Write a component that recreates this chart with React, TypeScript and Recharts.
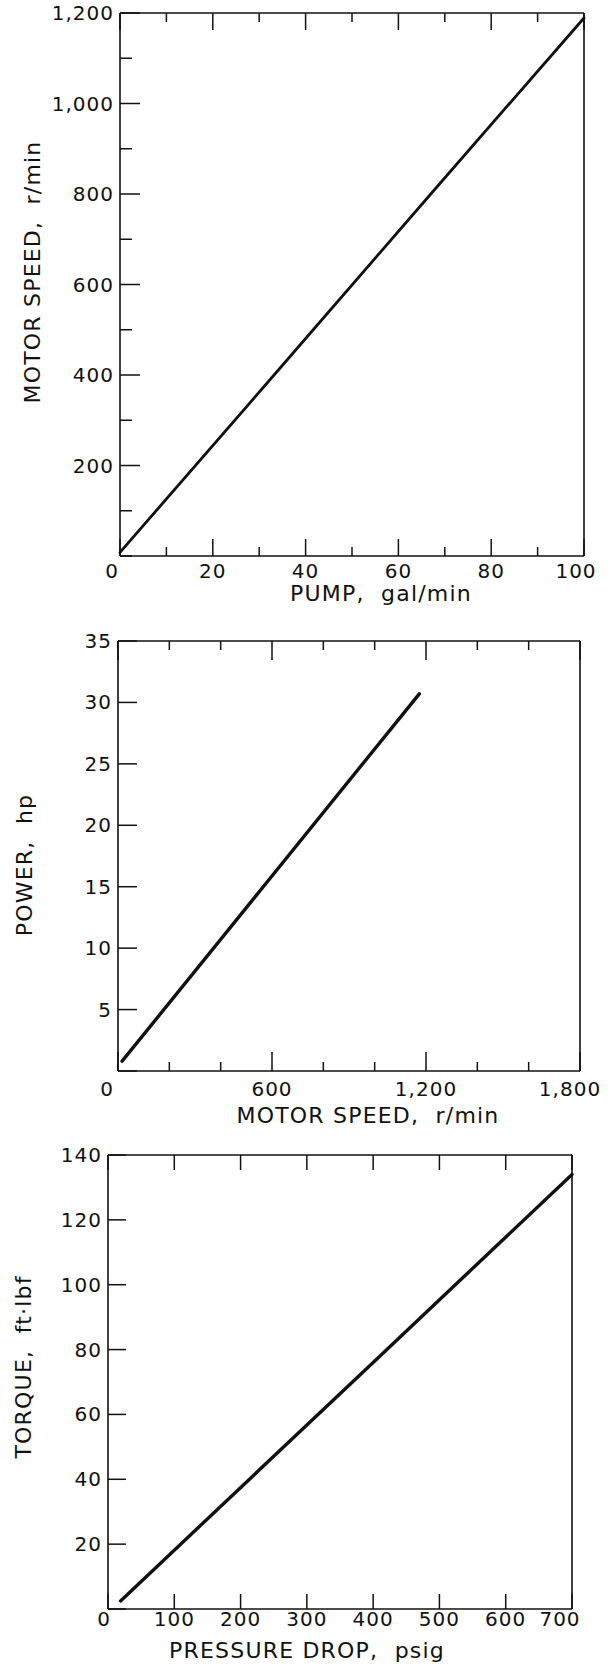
import React from 'react';
import { LineChart, Line, XAxis, YAxis } from 'recharts';

// ---------- Chart 1: motor speed vs pump flow ----------
const pumpFlow = [0, 33.2, 67.4, 100];
const motorSpeedA = [8, 400, 805, 1189];
const pumpTicks = [0, 10, 20, 30, 40, 50, 60, 70, 80, 90, 100];
const pumpLabels = [0, 20, 40, 60, 80, 100];
const speedTicksA = [0, 100, 200, 300, 400, 500, 600, 700, 800, 900, 1000, 1100, 1200];
const speedLabelsA = [200, 400, 600, 800, 1000, 1200];

// ---------- Chart 2: power vs motor speed ----------
const motorSpeedB = [16, 566, 1174];
const powerHp = [0.8, 15, 30.7];
const speedTicksB = [0, 200, 400, 600, 800, 1000, 1200, 1400, 1600, 1800];
const speedLabelsB = [0, 600, 1200, 1800];
const powerTicks = [0, 5, 10, 15, 20, 25, 30, 35];
const powerLabels = [5, 10, 15, 20, 25, 30, 35];

// ---------- Chart 3: torque vs pressure drop ----------
const pressureDrop = [19, 418, 700];
const torqueFtLbf = [2.5, 79.5, 134];
const pressureTicks = [0, 100, 200, 300, 400, 500, 600, 700];
const pressureLabels = [0, 100, 200, 300, 400, 500, 600, 700];
const torqueTicks = [0, 20, 40, 60, 80, 100, 120, 140];
const torqueLabels = [20, 40, 60, 80, 100, 120, 140];

const FONT = '"DejaVu Sans", Verdana, sans-serif';
const INK = '#111';
const fmt = (v: number) => v.toLocaleString('en-US');

const tickText = {
  fontFamily: FONT,
  fontSize: 20,
  letterSpacing: 1,
  fill: INK,
} as const;

type XCfg = {
  labels: number[];
  majors: number[];
  majorLen: number;
  minorLen: number;
  labelDy: number;
  zeroDx: number;
  lastDx: number;
  max: number;
  side: 'bottom' | 'top';
};

const xTick = (cfg: XCfg) => (props: any) => {
  const { x, y, payload } = props;
  const v = payload.value as number;
  const len = cfg.majors.includes(v) ? cfg.majorLen : cfg.minorLen;
  const dir = cfg.side === 'bottom' ? -1 : 1;
  const showLabel = cfg.side === 'bottom' && cfg.labels.includes(v);
  let dx = 0;
  if (v === 0) dx = cfg.zeroDx;
  if (v === cfg.max) dx = cfg.lastDx;
  return (
    <g>
      <line x1={x} y1={y} x2={x} y2={y + dir * len} stroke={INK} strokeWidth={1.5} />
      {showLabel && (
        <text x={x + dx} y={y + cfg.labelDy} textAnchor="middle" {...tickText}>
          {fmt(v)}
        </text>
      )}
    </g>
  );
};

type YCfg = {
  labels: number[];
  majors: number[];
  majorLen: number;
  minorLen: number;
  side: 'left' | 'right';
};

const yTick = (cfg: YCfg) => (props: any) => {
  const { x, y, payload } = props;
  const v = payload.value as number;
  const len = cfg.majors.includes(v) ? cfg.majorLen : cfg.minorLen;
  const dir = cfg.side === 'left' ? 1 : -1;
  const showLabel = cfg.side === 'left' && cfg.labels.includes(v);
  return (
    <g>
      <line x1={x} y1={y} x2={x + dir * len} y2={y} stroke={INK} strokeWidth={1.5} />
      {showLabel && (
        <text x={x - 6} y={y} textAnchor="end" dominantBaseline="central" {...tickText}>
          {fmt(v)}
        </text>
      )}
    </g>
  );
};

const titleStyle = {
  fontFamily: FONT,
  fontSize: 22,
  letterSpacing: 1.2,
  fill: INK,
  whiteSpace: 'pre',
} as const;

const xTitle = (text: string, cx: number, baseline: number) => ({
  content: () => (
    <text x={cx} y={baseline} textAnchor="middle" style={titleStyle as any}>
      {text}
    </text>
  ),
});

const yTitle = (text: string, baselineX: number, cy: number) => ({
  content: () => (
    <text
      x={baselineX}
      y={cy}
      textAnchor="middle"
      transform={`rotate(-90 ${baselineX} ${cy})`}
      style={titleStyle as any}
    >
      {text}
    </text>
  ),
});

type PanelProps = {
  top: number;
  height: number;
  margin: { top: number; right: number; bottom: number; left: number };
  xs: number[];
  ys: number[];
  xDomain: [number, number];
  yDomain: [number, number];
  xTicks: number[];
  yTicks: number[];
  xLabels: number[];
  yLabels: number[];
  xMajors: number[];
  yMajors: number[];
  xMajorLen: number;
  xMinorLen: number;
  yMajorLen: number;
  yMinorLen: number;
  labelDy: number;
  zeroDx: number;
  lastDx: number;
  lineWidth: number;
  xTitleText: string;
  xTitlePos: [number, number];
  yTitleText: string;
  yTitlePos: [number, number];
};

function Panel(p: PanelProps) {
  const data = p.xs.map((x, i) => ({ x, y: p.ys[i] }));
  const common = {
    majorLen: p.xMajorLen,
    minorLen: p.xMinorLen,
    labelDy: p.labelDy,
    zeroDx: p.zeroDx,
    lastDx: p.lastDx,
    max: p.xDomain[1],
    labels: p.xLabels,
    majors: p.xMajors,
  };
  const yCommon = { labels: p.yLabels, majors: p.yMajors, majorLen: p.yMajorLen, minorLen: p.yMinorLen };
  return (
    <div style={{ position: 'absolute', left: 0, top: p.top }}>
      <LineChart width={613} height={p.height} data={data} margin={p.margin}>
        <XAxis
          xAxisId="bottom"
          dataKey="x"
          type="number"
          domain={p.xDomain}
          ticks={p.xTicks}
          interval={0}
          height={40}
          tickSize={0}
          tickMargin={0}
          tickLine={false}
          axisLine={{ stroke: INK, strokeWidth: 1.6 }}
          tick={xTick({ ...common, side: 'bottom' })}
          label={xTitle(p.xTitleText, p.xTitlePos[0], p.xTitlePos[1])}
        />
        <XAxis
          xAxisId="top"
          orientation="top"
          dataKey="x"
          type="number"
          domain={p.xDomain}
          ticks={p.xTicks}
          interval={0}
          height={1}
          tickSize={0}
          tickMargin={0}
          tickLine={false}
          axisLine={{ stroke: INK, strokeWidth: 1.6 }}
          tick={xTick({ ...common, side: 'top' })}
        />
        <YAxis
          yAxisId="left"
          type="number"
          domain={p.yDomain}
          ticks={p.yTicks}
          interval={0}
          width={60}
          tickSize={0}
          tickMargin={0}
          tickLine={false}
          axisLine={{ stroke: INK, strokeWidth: 1.6 }}
          tick={yTick({ ...yCommon, side: 'left' })}
          label={yTitle(p.yTitleText, p.yTitlePos[0], p.yTitlePos[1])}
        />
        <YAxis
          yAxisId="right"
          orientation="right"
          type="number"
          domain={p.yDomain}
          ticks={p.yTicks}
          interval={0}
          width={1}
          tickSize={0}
          tickMargin={0}
          tickLine={false}
          axisLine={{ stroke: INK, strokeWidth: 1.6 }}
          tick={yTick({ ...yCommon, side: 'right' })}
        />
        <Line
          xAxisId="bottom"
          yAxisId="left"
          type="linear"
          dataKey="y"
          stroke={INK}
          strokeWidth={p.lineWidth}
          strokeLinecap="round"
          dot={false}
          isAnimationActive={false}
        />
      </LineChart>
    </div>
  );
}

export default function App() {
  return (
    <div style={{ position: 'absolute', left: 0, top: 0, width: 613, height: 1671, background: '#fff' }}>
      <Panel
        top={0}
        height={620}
        margin={{ top: 12, right: 28, bottom: 24, left: 60 }}
        xs={pumpFlow}
        ys={motorSpeedA}
        xDomain={[0, 100]}
        yDomain={[0, 1200]}
        xTicks={pumpTicks}
        yTicks={speedTicksA}
        xLabels={pumpLabels}
        yLabels={speedLabelsA}
        xMajors={pumpLabels}
        yMajors={speedLabelsA}
        xMajorLen={17}
        xMinorLen={9}
        yMajorLen={20}
        yMinorLen={12}
        labelDy={22}
        zeroDx={-8}
        lastDx={-8}
        lineWidth={2.8}
        xTitleText="PUMP,  gal/min"
        xTitlePos={[381, 601]}
        yTitleText="MOTOR SPEED,  r/min"
        yTitlePos={[40, 272]}
      />
      <Panel
        top={620}
        height={510}
        margin={{ top: 20, right: 32, bottom: 19, left: 58 }}
        xs={motorSpeedB}
        ys={powerHp}
        xDomain={[0, 1800]}
        yDomain={[0, 35]}
        xTicks={speedTicksB}
        yTicks={powerTicks}
        xLabels={speedLabelsB}
        yLabels={powerLabels}
        xMajors={speedLabelsB}
        yMajors={powerTicks}
        xMajorLen={19}
        xMinorLen={9}
        yMajorLen={19}
        yMinorLen={19}
        labelDy={25}
        zeroDx={-11}
        lastDx={-10}
        lineWidth={3.4}
        xTitleText="MOTOR SPEED,  r/min"
        xTitlePos={[368, 503]}
        yTitleText="POWER,  hp"
        yTitlePos={[32, 245]}
      />
      <Panel
        top={1130}
        height={541}
        margin={{ top: 24, right: 40, bottom: 22, left: 48 }}
        xs={pressureDrop}
        ys={torqueFtLbf}
        xDomain={[0, 700]}
        yDomain={[0, 140]}
        xTicks={pressureTicks}
        yTicks={torqueTicks}
        xLabels={pressureLabels}
        yLabels={torqueLabels}
        xMajors={pressureTicks}
        yMajors={torqueTicks}
        xMajorLen={15}
        xMinorLen={15}
        yMajorLen={18}
        yMinorLen={18}
        labelDy={17}
        zeroDx={-4}
        lastDx={-12}
        lineWidth={3.4}
        xTitleText="PRESSURE DROP,  psig"
        xTitlePos={[307, 528]}
        yTitleText="TORQUE,  ft·lbf"
        yTitlePos={[31, 237]}
      />
    </div>
  );
}
